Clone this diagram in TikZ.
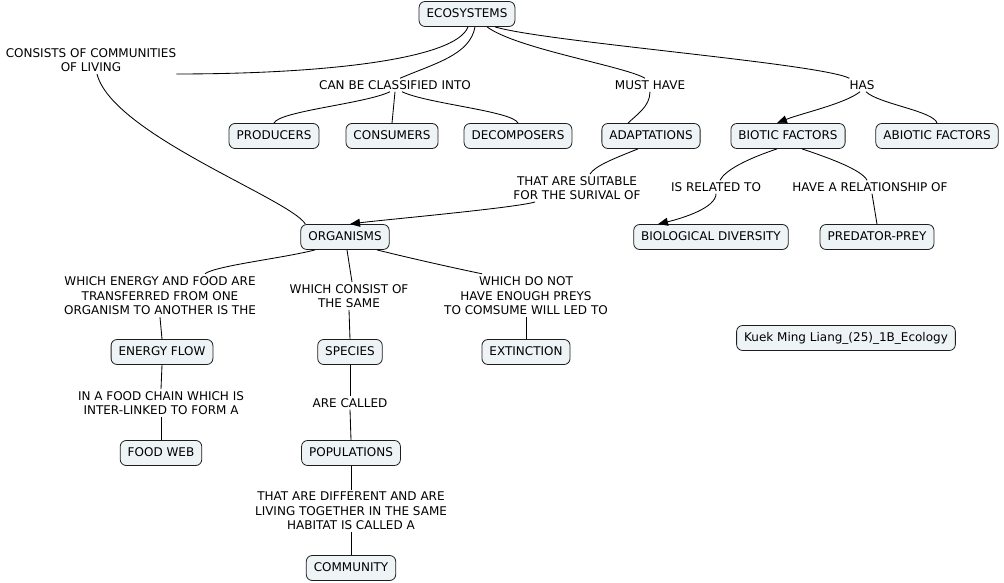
\documentclass[tikz,border=0pt]{standalone}
\usepackage{fontspec}
\setmainfont{DejaVu Sans}
\usetikzlibrary{arrows.meta}
\definecolor{cfill}{RGB}{238,244,246}
\definecolor{cline}{RGB}{30,30,30}
\begin{document}
\begin{tikzpicture}[x=1pt,y=-1pt,
 concept/.style={draw=cline, fill=cfill, rounded corners=6pt, line width=0.8pt, inner xsep=7.5pt, inner ysep=0pt, minimum height=25pt, font=\fontsize{12}{14.5}\selectfont, text height=9pt, text depth=2.5pt},
 phrase/.style={inner xsep=0pt, inner ysep=2pt, align=center, font=\fontsize{12}{14.5}\selectfont},
 link/.style={line width=0.85pt, draw=black},
 arr/.style={link, -{Triangle[length=10pt,width=8pt]}}
]
\useasboundingbox (0,0) rectangle (1004,583);

% concepts
\node[concept] (eco) at (467,14) {ECOSYSTEMS};
\node[concept] (prod) at (274,136) {PRODUCERS};
\node[concept] (cons) at (392,136) {CONSUMERS};
\node[concept] (decomp) at (518,136) {DECOMPOSERS};
\node[concept] (adapt) at (651,136) {ADAPTATIONS};
\node[concept] (biotic) at (788,136) {BIOTIC FACTORS};
\node[concept] (abiotic) at (937,136) {ABIOTIC FACTORS};
\node[concept] (biodiv) at (711,237) {BIOLOGICAL DIVERSITY};
\node[concept] (pred) at (877,237) {PREDATOR-PREY};
\node[concept] (org) at (345,237) {ORGANISMS};
\node[concept] (energy) at (162,352) {ENERGY FLOW};
\node[concept] (species) at (350,352) {SPECIES};
\node[concept] (extinct) at (526,352) {EXTINCTION};
\node[concept] (foodweb) at (161,453) {FOOD WEB};
\node[concept] (pop) at (351,453) {POPULATIONS};
\node[concept] (comm) at (351,568) {COMMUNITY};
\node[concept] (author) at (846,338) {Kuek Ming Liang\_(25)\_1B\_Ecology};

% linking phrases
\node[phrase] (consists) at (91,60) {CONSISTS OF COMMUNITIES\\OF LIVING};
\node[phrase] (canbe) at (395,85) {CAN BE CLASSIFIED INTO};
\node[phrase] (must) at (650,85) {MUST HAVE};
\node[phrase] (has) at (862,85) {HAS};
\node[phrase] (suit) at (577,188) {THAT ARE SUITABLE\\FOR THE SURIVAL OF};
\node[phrase] (isrel) at (716,187) {IS RELATED TO};
\node[phrase] (haverel) at (870,187) {HAVE A RELATIONSHIP OF};
\node[phrase] (energylab) at (160,296) {WHICH ENERGY AND FOOD ARE\\TRANSFERRED FROM ONE\\ORGANISM TO ANOTHER IS THE};
\node[phrase] (consistlab) at (349,296) {WHICH CONSIST OF\\THE SAME};
\node[phrase] (donot) at (526,296) {WHICH DO NOT\\HAVE ENOUGH PREYS\\TO COMSUME WILL LED TO};
\node[phrase] (chain) at (161,403) {IN A FOOD CHAIN WHICH IS\\INTER-LINKED TO FORM A};
\node[phrase] (called) at (350,403) {ARE CALLED};
\node[phrase] (diff) at (351,511) {THAT ARE DIFFERENT AND ARE\\LIVING TOGETHER IN THE SAME\\HABITAT IS CALLED A};

% connectors
\draw[link] ([xshift=1pt]eco.south) .. controls +(-12,32) and +(150,0) .. (consists.south east);
\draw[link] ([xshift=6pt]consists.south) .. controls +(15,60) and +(-15,-25) .. ([xshift=5pt]org.north west);
\draw[link] ([xshift=8pt]eco.south) .. controls +(-5,28) and +(35,-15) .. ([xshift=5pt]canbe.north);
\draw[link] ([xshift=-5pt]canbe.south) .. controls +(-25,12) and +(5,-12) .. (prod.north);
\draw[link] (canbe.south) -- (cons.north);
\draw[link] ([xshift=7pt]canbe.south) .. controls +(25,12) and +(-5,-12) .. (decomp.north);
\draw[link] ([xshift=20pt]eco.south) .. controls +(30,22) and +(-20,-12) .. ([xshift=-5pt]must.north);
\draw[link] ([xshift=28pt]eco.south) .. controls +(50,15) and +(-30,-15) .. (has.north west);
\draw[link] (must.south) .. controls +(0,15) and +(8,-8) .. ([xshift=-23pt]adapt.north);
\draw[arr] ([xshift=-2pt]has.south) .. controls +(-15,12) and +(25,-10) .. ([xshift=-11pt]biotic.north);
\draw[link] ([xshift=4pt]has.south) .. controls +(12,12) and +(-3,-12) .. (abiotic.north);
\draw[link] ([xshift=-13pt]adapt.south) .. controls +(-25,10) and +(5,-8) .. ([xshift=13pt]suit.north);
\draw[arr] ([xshift=-42pt]suit.south) .. controls +(-20,6) and +(30,-4) .. ([xshift=5pt]org.north);
\draw[link] ([xshift=-11pt]biotic.south) .. controls +(-30,10) and +(5,-10) .. ([xshift=4pt]isrel.north);
\draw[arr] (isrel.south) .. controls +(0,14) and +(25,-6) .. ([xshift=-53pt]biodiv.north);
\draw[link] ([xshift=14pt]biotic.south) .. controls +(30,10) and +(-5,-10) .. ([xshift=-3pt]haverel.north);
\draw[link] ([xshift=2pt]haverel.south) -- (pred.north);
\draw[link] ([xshift=-30pt]org.south) .. controls +(-30,8) and +(10,-8) .. ([xshift=45pt,yshift=1pt]energylab.north);
\draw[link] ([xshift=2pt]org.south) -- ([xshift=3pt]consistlab.north);
\draw[link] ([xshift=32pt]org.south) .. controls +(40,10) and +(-15,-3) .. ([xshift=-44pt,yshift=1pt]donot.north);
\draw[link] (energylab.south) -- (energy.north);
\draw[link] (energy.south) -- (chain.north);
\draw[link] (chain.south) -- (foodweb.north);
\draw[link] (consistlab.south) -- (species.north);
\draw[link] (species.south) -- (called.north);
\draw[link] (called.south) -- (pop.north);
\draw[link] (pop.south) -- (diff.north);
\draw[link] (diff.south) -- (comm.north);
\draw[link] (donot.south) -- (extinct.north);
\end{tikzpicture}
\end{document}
